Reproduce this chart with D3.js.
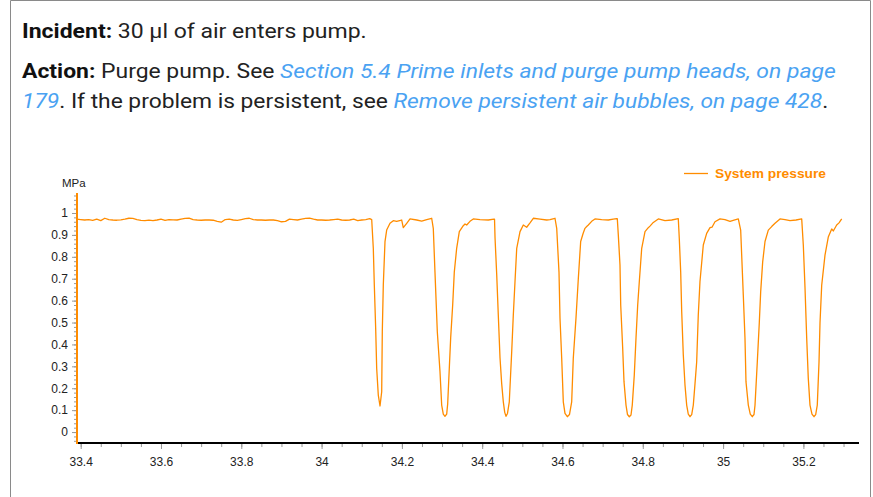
<!DOCTYPE html>
<html><head><meta charset="utf-8">
<script src="https://cdn.jsdelivr.net/npm/d3@7"></script>
<style>html,body{margin:0;padding:0;background:#fff;overflow:hidden}</style>
</head><body><svg id="c" width="873" height="497"></svg>
<script>
// ---------------- DATA ----------------
const timeMin = [
 33.39,33.40,33.41,33.42,33.43,33.44,33.45,33.46,33.47,33.48,
 33.49,33.50,33.51,33.52,33.53,33.54,33.55,33.56,33.57,33.58,
 33.59,33.60,33.61,33.62,33.63,33.64,33.65,33.66,33.67,33.68,
 33.69,33.70,33.71,33.72,33.73,33.74,33.75,33.76,33.77,33.78,
 33.79,33.80,33.81,33.82,33.83,33.84,33.85,33.86,33.87,33.88,
 33.89,33.90,33.91,33.92,33.93,33.94,33.95,33.96,33.97,33.98,
 33.99,34.00,34.01,34.02,34.03,34.04,34.05,34.06,34.07,34.08,
 34.09,34.10,34.11,34.12,
 34.1248,34.1288,34.1313,34.1347,34.1372,34.1412,34.1455,34.1497,34.1512,34.1537,
 34.1579,34.1621,34.1704,34.1786,34.1870,34.1995,34.2035,34.2120,34.2202,34.2369,
 34.2493,34.2618,34.2742,
 34.2782,34.2824,34.2882,34.2949,34.2991,34.3031,34.3073,34.3116,34.3141,34.3173,
 34.3215,34.3265,34.3305,34.3365,34.3430,34.3529,34.3572,34.3614,34.3696,34.3778,
 34.3945,34.4152,34.4294,
 34.4307,34.4320,34.4362,34.4401,34.4444,34.4486,34.4526,34.4561,34.4593,34.4630,
 34.4675,34.4735,34.4775,34.4817,34.4860,34.4942,34.5024,34.5108,34.5191,34.5273,
 34.5440,34.5606,34.5689,34.5813,
 34.5856,34.5913,34.5938,34.5980,34.6020,34.6062,34.6120,34.6174,34.6229,34.6269,
 34.6336,34.6394,34.6453,34.6511,34.6560,34.6603,34.6643,34.6727,34.6809,34.6976,
 34.7141,34.7265,34.7350,
 34.7365,34.7390,34.7432,34.7450,34.7499,34.7532,34.7582,34.7619,34.7664,34.7706,
 34.7738,34.7788,34.7831,34.7873,34.7913,34.7973,34.8055,34.8137,34.8179,34.8262,
 34.8386,34.8553,34.8720,34.8884,
 34.8909,34.8944,34.8969,34.9009,34.9051,34.9093,34.9133,34.9176,34.9218,34.9258,
 34.9300,34.9342,34.9382,34.9424,34.9507,34.9591,34.9674,34.9724,34.9798,34.9923,
 35.0047,35.0172,35.0272,35.0379,
 35.0438,35.0463,35.0503,35.0545,35.0570,35.0628,35.0677,35.0727,35.0770,35.0795,
 35.0852,35.0902,35.0936,35.0986,35.1044,35.1126,35.1210,35.1293,35.1417,35.1542,
 35.1667,35.1816,35.1958,
 35.1998,35.2040,35.2082,35.2122,35.2164,35.2214,35.2264,35.2306,35.2346,35.2389,
 35.2414,35.2456,35.2538,35.2620,35.2705,35.2745,35.2829,35.2887,35.2954
];
const pressure = [
 0.972,0.970,0.968,0.970,0.966,0.972,0.965,0.976,0.970,0.968,
 0.967,0.969,0.972,0.976,0.975,0.970,0.966,0.965,0.967,0.965,
 0.968,0.972,0.966,0.970,0.969,0.968,0.972,0.975,0.977,0.970,
 0.968,0.967,0.968,0.968,0.967,0.962,0.958,0.970,0.972,0.968,
 0.966,0.970,0.974,0.976,0.970,0.968,0.968,0.967,0.968,0.968,
 0.965,0.960,0.962,0.972,0.970,0.968,0.972,0.975,0.977,0.972,
 0.968,0.968,0.967,0.968,0.970,0.972,0.968,0.967,0.968,0.972,
 0.965,0.968,0.970,0.974,
 0.970,0.839,0.671,0.474,0.291,0.169,0.119,0.184,0.458,0.671,
 0.869,0.922,0.953,0.965,0.962,0.968,0.933,0.953,0.973,0.968,
 0.963,0.970,0.976,
 0.930,0.730,0.458,0.275,0.123,0.082,0.072,0.082,0.130,0.260,
 0.430,0.580,0.730,0.840,0.915,0.942,0.950,0.945,0.962,0.973,
 0.970,0.968,0.972,
 0.972,0.886,0.717,0.534,0.338,0.220,0.138,0.090,0.072,0.085,
 0.138,0.367,0.534,0.686,0.839,0.915,0.945,0.935,0.955,0.976,
 0.972,0.968,0.970,0.976,
 0.930,0.730,0.520,0.338,0.138,0.085,0.070,0.080,0.138,0.338,
 0.520,0.700,0.870,0.905,0.930,0.938,0.945,0.962,0.973,0.970,
 0.968,0.972,0.974,
 0.974,0.900,0.763,0.580,0.384,0.230,0.123,0.080,0.070,0.078,
 0.123,0.260,0.430,0.580,0.686,0.839,0.915,0.933,0.940,0.957,
 0.973,0.965,0.968,0.974,
 0.884,0.730,0.550,0.352,0.215,0.123,0.082,0.070,0.080,0.123,
 0.220,0.320,0.534,0.686,0.854,0.907,0.933,0.935,0.960,0.973,
 0.970,0.962,0.968,0.973,
 0.922,0.808,0.626,0.430,0.230,0.123,0.082,0.070,0.080,0.123,
 0.320,0.500,0.640,0.777,0.870,0.922,0.938,0.953,0.973,0.970,
 0.965,0.968,0.973,
 0.854,0.660,0.430,0.245,0.123,0.082,0.070,0.080,0.123,0.320,
 0.500,0.670,0.808,0.890,0.927,0.918,0.945,0.955,0.973
];
const xTickValues = [33.4,33.6,33.8,34.0,34.2,34.4,34.6,34.8,35.0,35.2];
const xTickLabels = ["33.4","33.6","33.8","34","34.2","34.4","34.6","34.8","35","35.2"];
const yTickValues = [0,0.1,0.2,0.3,0.4,0.5,0.6,0.7,0.8,0.9,1];
const yTickLabels = ["0","0.1","0.2","0.3","0.4","0.5","0.6","0.7","0.8","0.9","1"];
const seriesName = "System pressure";
const yUnit = "MPa";

// ---------------- DRAW ----------------
const svg = d3.select("#c");
const orange = "#ff8c00";

// frame
svg.append("path").attr("d","M10.5,497V0.5H870.5V497")
  .attr("fill","none").attr("stroke","#8a8a8a").attr("stroke-width",1);

// header text
const headerLines = [
  [{t:"Incident:",b:true},{t:" 30 µl of air enters pump."}],
  [{t:"Action:",b:true},{t:" Purge pump. See "},{t:"Section 5.4 Prime inlets and purge pump heads, on page",l:true}],
  [{t:"179",l:true},{t:". If the problem is persistent, see "},{t:"Remove persistent air bubbles, on page 428",l:true},{t:"."}]
];
const headerWidths = [345, 814, 807];
const headerBase = [38, 78, 108];
headerLines.forEach((segs,i)=>{
  const t = svg.append("text")
    .attr("x",0).attr("y",0)
    .style("white-space","pre")
    .attr("font-family","Roboto, 'Open Sans', sans-serif")
    .attr("font-size",20.5);
  segs.forEach(s=>{
    t.append("tspan").text(s.t)
      .attr("font-weight", s.b ? 700 : 400)
      .attr("font-style", s.l ? "italic" : "normal")
      .attr("fill", s.l ? "#4aa2f2" : (s.b ? "#111" : "#222"));
  });
  const w = t.node().getComputedTextLength();
  t.attr("transform",`translate(22,${headerBase[i]}) scale(${headerWidths[i]/w},1)`);
});

// scales
const x = d3.scaleLinear().domain([33.3908, 35.3385]).range([77, 859]);
const y = d3.scaleLinear().domain([-0.05, 1.0913]).range([443, 193]);

const tickFont = "'Liberation Sans', Arial, sans-serif";

// x minor ticks
const xMinor = d3.range(0, 39).map(i => +(33.4 + i*0.05).toFixed(2));
svg.append("g").attr("transform","translate(0,443)")
  .call(d3.axisBottom(x).tickValues(xMinor).tickSize(4).tickFormat(""))
  .call(g=>g.select(".domain").remove())
  .call(g=>g.selectAll("line").attr("stroke","#999"));
// x major
svg.append("g").attr("transform","translate(0,443)")
  .call(d3.axisBottom(x).tickValues(xTickValues).tickSize(6).tickPadding(8)
        .tickFormat((d,i)=>xTickLabels[i]))
  .call(g=>g.select(".domain").remove())
  .call(g=>g.selectAll("line").attr("stroke","#999"))
  .call(g=>g.selectAll("text").attr("font-family",tickFont).attr("font-size",12).attr("fill","#222"));

// y minor
const yMinor = d3.range(-2, 55).map(i => +(i*0.02).toFixed(2));
svg.append("g").attr("transform","translate(77,0)")
  .call(d3.axisLeft(y).tickValues(yMinor).tickSize(3).tickFormat(""))
  .call(g=>g.select(".domain").remove())
  .call(g=>g.selectAll("line").attr("stroke","#999"));
svg.append("g").attr("transform","translate(77,0)")
  .call(d3.axisLeft(y).tickValues(yTickValues).tickSize(5).tickPadding(4)
        .tickFormat((d,i)=>yTickLabels[i]))
  .call(g=>g.select(".domain").remove())
  .call(g=>g.selectAll("line").attr("stroke","#999"))
  .call(g=>g.selectAll("text").attr("font-family",tickFont).attr("font-size",12).attr("fill","#222"));

// axis lines
svg.append("line").attr("x1",77).attr("x2",859).attr("y1",443).attr("y2",443)
  .attr("stroke","#000").attr("stroke-width",2);
svg.append("line").attr("x1",77).attr("x2",77).attr("y1",y.range()[1]).attr("y2",444)
  .attr("stroke",orange).attr("stroke-width",2);

// unit label
svg.append("text").attr("x",62).attr("y",187).text(yUnit)
  .attr("font-family",tickFont).attr("font-size",11.5).attr("fill","#222");

// series line
const pts = d3.zip(timeMin, pressure);
svg.append("path").datum(pts)
  .attr("fill","none").attr("stroke",orange).attr("stroke-width",1.3)
  .attr("stroke-linejoin","round")
  .attr("d", d3.line().x(d=>x(d[0])).y(d=>y(d[1])));

// legend
svg.append("line").attr("x1",684).attr("x2",708).attr("y1",173.5).attr("y2",173.5)
  .attr("stroke",orange).attr("stroke-width",1.3);
svg.append("text").attr("x",715).attr("y",178).text(seriesName)
  .attr("font-family",tickFont).attr("font-size",12).attr("font-weight",700)
  .attr("fill",orange).attr("textLength",111).attr("lengthAdjust","spacingAndGlyphs");
</script></body></html>
